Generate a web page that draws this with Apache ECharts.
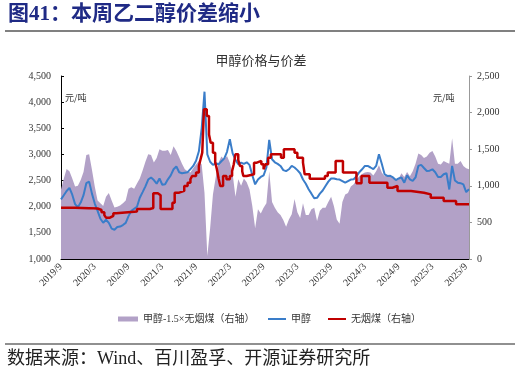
<!DOCTYPE html>
<html><head><meta charset="utf-8">
<script src="https://cdn.jsdelivr.net/npm/echarts@6/dist/echarts.min.js"></script>
<style>html,body{margin:0;padding:0;background:#fff}#c{width:521px;height:374px}</style>
</head><body><div id="c"></div>
<script>
// semi-monthly observation dates
const dates = [
'2019-09-01','2019-09-16','2019-10-01','2019-10-16','2019-11-01','2019-11-16','2019-12-01','2019-12-16',
'2020-01-01','2020-01-16','2020-02-01','2020-02-16','2020-03-01','2020-03-16','2020-04-01','2020-04-16','2020-05-01','2020-05-16','2020-06-01','2020-06-16',
'2020-07-01','2020-07-16','2020-08-01','2020-08-16','2020-09-01','2020-09-16','2020-10-01','2020-10-16','2020-11-01','2020-11-16','2020-12-01','2020-12-16',
'2021-01-01','2021-01-16','2021-02-01','2021-02-16','2021-03-01','2021-03-16','2021-04-01','2021-04-16','2021-05-01','2021-05-16','2021-06-01','2021-06-16',
'2021-07-01','2021-07-16','2021-08-01','2021-08-16','2021-09-01','2021-09-16','2021-10-01','2021-10-16','2021-11-01','2021-11-16','2021-12-01','2021-12-16',
'2022-01-01','2022-01-16','2022-02-01','2022-02-16','2022-03-01','2022-03-16','2022-04-01','2022-04-16','2022-05-01','2022-05-16','2022-06-01','2022-06-16',
'2022-07-01','2022-07-16','2022-08-01','2022-08-16','2022-09-01','2022-09-16','2022-10-01','2022-10-16','2022-11-01','2022-11-16','2022-12-01','2022-12-16',
'2023-01-01','2023-01-16','2023-02-01','2023-02-16','2023-03-01','2023-03-16','2023-04-01','2023-04-16','2023-05-01','2023-05-16','2023-06-01','2023-06-16',
'2023-07-01','2023-07-16','2023-08-01','2023-08-16','2023-09-01','2023-09-16','2023-10-01','2023-10-16','2023-11-01','2023-11-16','2023-12-01','2023-12-16',
'2024-01-01','2024-01-16','2024-02-01','2024-02-16','2024-03-01','2024-03-16','2024-04-01','2024-04-16','2024-05-01','2024-05-16','2024-06-01','2024-06-16',
'2024-07-01','2024-07-16','2024-08-01','2024-08-16','2024-09-01','2024-09-16','2024-10-01','2024-10-16','2024-11-01','2024-11-16','2024-12-01','2024-12-16',
'2025-01-01','2025-01-16','2025-02-01','2025-02-16','2025-03-01','2025-03-16','2025-04-01','2025-04-16','2025-05-01','2025-05-16','2025-06-01','2025-06-16',
'2025-07-01','2025-07-16','2025-08-01','2025-08-16','2025-09-01','2025-09-16'
];
// 甲醇 (left axis, 元/吨)
const methanol = [
2140,2220,2300,2360,2230,2050,1990,2080,
2220,2450,2480,2250,2060,1920,1770,1694,1750,1690,1580,1560,1610,1620,1650,1690,1820,1920,1960,2000,2172,2280,2390,2520,
2560,2510,2440,2540,2420,2430,2524,2600,2716,2770,2660,2640,2650,2660,2720,2780,2880,3060,3500,4200,3000,2860,2800,2830,
2811,2870,2920,3050,3290,3020,2900,2811,2843,2820,2850,2800,2600,2428,2520,2570,2600,2750,3280,2907,2850,2820,2780,2700,
2680,2716,2780,2750,2700,2640,2520,2440,2333,2250,2160,2170,2250,2310,2396,2480,2540,2540,2524,2520,2490,2460,2490,2520,
2524,2580,2660,2716,2780,2779,2750,2720,2780,3003,2820,2620,2588,2590,2560,2510,2540,2560,2460,2600,2524,2492,2560,2780,
2800,2740,2684,2690,2716,2660,2570,2570,2620,2640,2330,2780,2500,2460,2450,2428,2280,2333
];
// 甲醇-1.5×无烟煤 (right axis)
const spread = [
950,1100,1230,1200,1100,990,1000,1080,
1190,1420,1430,1220,990,800,760,724,850,900,800,705,715,730,760,800,960,980,960,1030,1100,1210,1330,1430,
1420,1320,1380,1500,1480,1480,1490,1420,1540,1475,1390,1300,1225,1200,1180,1240,1290,1340,1290,900,41,420,880,1120,
1320,1400,1360,1407,1316,1160,850,1089,1000,1100,1050,950,720,420,680,620,700,760,1200,780,700,640,600,533,
440,540,610,820,640,560,760,600,600,680,700,520,660,700,700,780,850,720,540,480,780,880,900,990,
1020,1080,1130,1160,1180,1190,1180,1140,1200,1280,1180,1130,1140,1130,1120,1090,1100,1170,1120,1190,1130,1200,1300,1440,
1420,1380,1400,1450,1475,1400,1300,1290,1340,1320,1300,1650,1300,1300,1340,1270,1240,1225
];
// 无烟煤 (right axis) price change dates and levels
const coalDates = [
'2019-09-01','2019-11-16','2020-02-01','2020-03-16','2020-04-07','2020-04-22','2020-05-01','2020-05-22','2020-06-10','2020-06-25',
'2020-10-16','2020-12-25','2021-01-13','2021-02-07','2021-02-22','2021-04-25','2021-05-07','2021-06-01','2021-06-28','2021-07-16',
'2021-08-01','2021-08-10','2021-09-01','2021-09-16','2021-09-25','2021-10-04','2021-10-13','2021-10-28','2021-11-10','2021-11-19',
'2021-12-01','2021-12-13','2021-12-22','2022-01-01','2022-01-10','2022-01-25','2022-02-13','2022-03-01','2022-03-13','2022-03-22',
'2022-04-01','2022-04-16','2022-04-25','2022-05-07','2022-05-13','2022-06-01','2022-07-10','2022-07-25','2022-08-19','2022-09-01',
'2022-09-10','2022-09-25','2022-10-10','2022-12-04','2022-12-19','2023-02-16','2023-03-01','2023-04-01','2023-04-10','2023-05-07',
'2023-07-28','2023-08-13','2023-09-25','2023-11-04','2024-01-16','2024-02-13','2024-03-25','2024-07-01','2024-07-28','2024-08-25',
'2024-11-07','2025-01-16','2025-02-22','2025-05-01','2025-07-07','2025-09-16'
];
const coal = [
700,695,690,670,640,600,565,590,625,650,
683,697,897,870,683,769,906,930,997,1043,
1090,1134,1180,1270,1362,1453,2045,1953,1700,1589,
1453,1320,1225,1100,997,1134,1089,1134,1200,1294,
1430,1350,1271,1200,1134,1157,1316,1340,1294,1225,
1294,1384,1430,1384,1498,1453,1384,1316,1157,1097,
1134,1180,1339,1180,1034,1134,1043,974,997,929,
906,883,838,792,747,740
];
const xTickLabels = ['2019/9','2020/3','2020/9','2021/3','2021/9','2022/3','2022/9','2023/3','2023/9','2024/3','2024/9','2025/3','2025/9'];
const leftTicks = [1000, 4500, 500];
const rightTicks = [0, 2500, 500];

const SERIF = '"Liberation Serif","Noto Sans CJK SC",serif';
function toM(d){const p=d.split('-').map(Number);return (p[0]-2019)*12+(p[1]-9)+(p[2]-1)/30;}
const fmt = v => v.toLocaleString('en-US');

const names = ['甲醇-1.5×无烟煤（右轴）','甲醇','无烟煤（右轴）'];
const cArea = '#B2A1C7', cBlue = '#3A7DC9', cRed = '#C00000';

const chart = echarts.init(document.getElementById('c'), null, {renderer:'canvas'});
chart.setOption({
  animation:false,
  backgroundColor:'#fff',
  grid:{left:61, right:52, top:76, bottom:115, containLabel:false},
  xAxis:{
    type:'value', min:0, max:72.5, interval:6,
    axisLine:{lineStyle:{color:'#000', width:1}},
    axisTick:{inside:true, length:3, lineStyle:{color:'#000'}},
    splitLine:{show:false},
    axisLabel:{rotate:45, margin:6, fontSize:10, fontFamily:SERIF, color:'#333', showMaxLabel:false,
      formatter:v => (Math.abs(v/6-Math.round(v/6))<1e-6 ? (xTickLabels[Math.round(v/6)]||'') : '')}
  },
  yAxis:[
    {type:'value', min:leftTicks[0], max:leftTicks[1], interval:leftTicks[2], position:'left',
     axisLine:{show:true, lineStyle:{color:'#000'}},
     axisTick:{show:true, inside:true, length:3, lineStyle:{color:'#000'}},
     splitLine:{show:false},
     axisLabel:{fontSize:10, fontFamily:SERIF, color:'#333', margin:10, formatter:fmt}},
    {type:'value', min:rightTicks[0], max:rightTicks[1], interval:rightTicks[2], position:'right',
     axisLine:{show:true, lineStyle:{color:'#999'}},
     axisTick:{show:true, inside:false, length:3, lineStyle:{color:'#999'}},
     splitLine:{show:false},
     axisLabel:{fontSize:10, fontFamily:SERIF, color:'#333', margin:8, formatter:fmt}}
  ],
  legend:[
    {left:113, top:309, itemWidth:20, itemHeight:5, itemGap:17,
     textStyle:{fontSize:10, fontFamily:SERIF, color:'#333'},
     data:[{name:names[0], icon:'rect'}]},
    {left:263, top:309, itemWidth:18, itemHeight:2, itemGap:17,
     textStyle:{fontSize:10, fontFamily:SERIF, color:'#333'},
     data:[{name:names[1], icon:'rect'},{name:names[2], icon:'rect'}]}
  ],
  series:[
    {name:names[0], type:'line', yAxisIndex:1, showSymbol:false, symbol:'none',
     data:dates.map((d,i)=>[toM(d), spread[i]]),
     lineStyle:{width:0}, itemStyle:{color:cArea}, areaStyle:{color:cArea, opacity:1}, z:1},
    {name:names[1], type:'line', yAxisIndex:0, showSymbol:false, symbol:'none',
     data:dates.map((d,i)=>[toM(d), methanol[i]]),
     lineStyle:{width:2, color:cBlue}, itemStyle:{color:cBlue}, z:2},
    {name:names[2], type:'line', yAxisIndex:1, showSymbol:false, symbol:'none', step:'end',
     data:coalDates.map((d,i)=>[toM(d), coal[i]]),
     lineStyle:{width:2.5, color:cRed}, itemStyle:{color:cRed}, z:3}
  ],
  graphic:[
    {type:'text', left:8, top:4, style:{text:'图41：本周乙二醇价差缩小', font:'bold 21px "Liberation Serif","Noto Sans CJK SC",serif', fill:'#1F2A85'}},
    {type:'line', shape:{x1:5, y1:31, x2:515, y2:31}, style:{stroke:'#808080', lineWidth:2}},
    {type:'text', x:261, y:60, style:{text:'甲醇价格与价差', font:'13px "Noto Sans CJK SC",sans-serif', fill:'#333', align:'center', verticalAlign:'middle', textAlign:'center', textVerticalAlign:'middle'}},
    {type:'text', x:65, y:98, style:{text:'元/吨', font:'9px "Noto Sans CJK SC",sans-serif', fill:'#333', verticalAlign:'middle', textVerticalAlign:'middle'}},
    {type:'text', x:433, y:98, style:{text:'元/吨', font:'9px "Noto Sans CJK SC",sans-serif', fill:'#333', verticalAlign:'middle', textVerticalAlign:'middle'}},
    {type:'line', shape:{x1:5, y1:344, x2:515, y2:344}, style:{stroke:'#222', lineWidth:1.2}},
    {type:'text', x:7, y:359, style:{text:'数据来源：Wind、百川盈孚、开源证券研究所', font:'18px "Liberation Serif","Noto Sans CJK SC",serif', fill:'#222', verticalAlign:'middle', textVerticalAlign:'middle'}}
  ]
});
</script></body></html>
